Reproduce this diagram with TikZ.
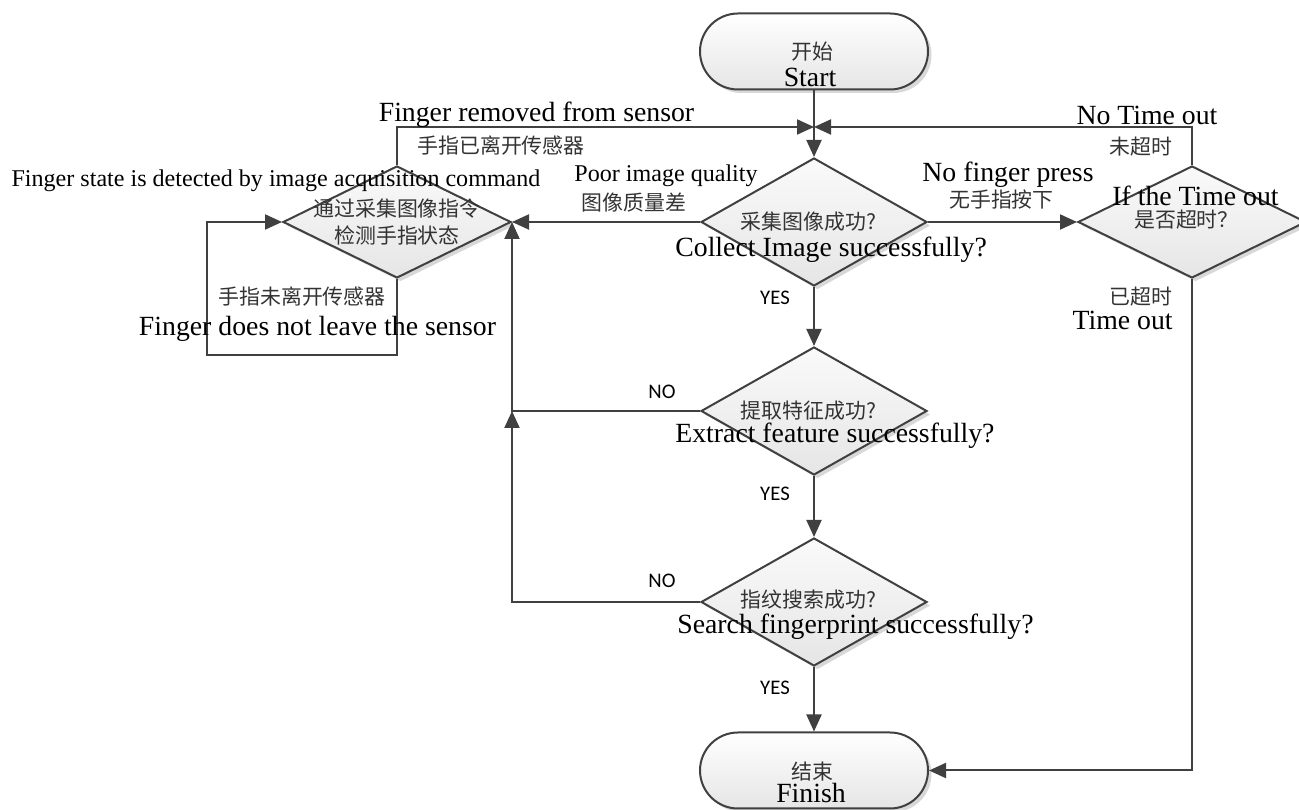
\documentclass[tikz,border=0pt]{standalone}
\usepackage{fontspec}
\setmainfont{Liberation Serif}
\newfontfamily\cjk{Noto Sans CJK SC}
\newfontfamily\yesno{Carlito}
\usetikzlibrary{arrows.meta,shapes.geometric,shadows}
\tikzset{
    line/.style={draw=black!75, line width=0.04cm},
    flow/.style={line, -{Triangle[length=0.34cm,width=0.3cm]}},
    term/.style={line, rectangle, rounded corners=0.76cm, minimum width=4.56cm, minimum height=1.52cm,
        top color=white, bottom color=black!10,
        drop shadow={shadow xshift=0.07cm, shadow yshift=-0.07cm, fill=black!30, opacity=0.5}},
    decision/.style={line, diamond, inner sep=0pt, minimum width=4.52cm, minimum height=2.56cm,
        top color=black!2, bottom color=black!10,
        drop shadow={shadow xshift=0.07cm, shadow yshift=-0.07cm, fill=black!30, opacity=0.5}},
    en/.style={font=\fontsize{15.8}{18}\selectfont, inner sep=0pt},
    ensmall/.style={font=\fontsize{13.7}{16}\selectfont, inner sep=0pt},
    cn/.style={font=\cjk\fontsize{11.9}{15.9}\selectfont, text=black!80, inner sep=0pt},
    yn/.style={font=\yesno\fontsize{11.8}{14}\selectfont, inner sep=0pt}
}
\begin{document}
\begin{tikzpicture}
    \useasboundingbox (0,0) rectangle (25.98,16.2);
    % boxes
    \node[term] (st) at (16.28,15.17) {};
    \node[decision] (d1) at (16.28,11.76) {};
    \node[decision] (d2) at (16.28,7.98) {};
    \node[decision] (d3) at (16.28,4.16) {};
    \node[term] (fin) at (16.28,0.79) {};
    \node[decision, minimum width=4.56cm, minimum height=2.24cm] (ld) at (7.94,11.76) {};
    \node[decision, minimum width=4.56cm, minimum height=2.24cm] (rd) at (23.84,11.76) {};
    \coordinate (jn) at (16.28,13.66);
    \coordinate (lp) at (4.14,9.1);
    \coordinate (jl) at (ld.east |- d2.west);
    % connectors
    \draw[flow] (st) -- (d1);
    \draw[flow] (ld.north) |- (jn);
    \draw[flow] (rd.north) |- (jn);
    \draw[flow] (d1.west) -- (ld.east);
    \draw[flow] (d1.east) -- (rd.west);
    \draw[flow] (d1) -- (d2);
    \draw[flow] (d2) -- (d3);
    \draw[flow] (d3) -- (fin);
    \draw[flow] (d2.west) -| (ld.east);
    \draw[flow] (d3.west) -| (jl);
    \draw[flow] (ld.south) |- (lp) |- (ld.west);
    \draw[flow] (rd.south) |- (fin.east);
    % texts
    \node[cn] (st-cn) at (16.24,15.16) {开始};
    \node[en] (st-en) at (16.2,14.66) {Start};
    \node[cn] (fin-cn) at (16.24,0.76) {结束};
    \node[en] (fin-en) at (16.22,0.34) {Finish};
    \node[cn] (d1-cn) at (16.17,11.76) {采集图像成功?};
    \node[en, anchor=west] (d1-en) at (13.5,11.2) {Collect Image successfully?};
    \node[cn] (d2-cn) at (16.17,7.98) {提取特征成功?};
    \node[en, anchor=west] (d2-en) at (13.5,7.48) {Extract feature successfully?};
    \node[cn] (d3-cn) at (16.17,4.2) {指纹搜索成功?};
    \node[en, anchor=west] (d3-en) at (13.54,3.66) {Search fingerprint successfully?};
    \node[cn, align=center] (ld-cn) at (7.94,11.76) {通过采集图像指令\\检测手指状态};
    \node[ensmall] (ld-en) at (5.52,12.58) {Finger state is detected by image acquisition command};
    \node[en] (rd-en) at (23.91,12.28) {If the Time out};
    \node[cn] (rd-cn) at (23.73,11.8) {是否超时？};
    \node[en] (out-en) at (10.73,13.9) {Finger removed from sensor};
    \node[cn] (out-cn) at (10.02,13.28) {手指已离开传感器};
    \node[cn] (in-cn) at (6.04,10.26) {手指未离开传感器};
    \node[en] (in-en) at (6.35,9.62) {Finger does not leave the sensor};
    \node[ensmall] (poor-en) at (13.32,12.68) {Poor image quality};
    \node[cn] (poor-cn) at (12.68,12.14) {图像质量差};
    \node[en] (nf-en) at (20.16,12.7) {No finger press};
    \node[cn] (nf-cn) at (20.03,12.2) {无手指按下};
    \node[en] (nt-en) at (22.94,13.9) {No Time out};
    \node[cn, anchor=east] (nt-cn) at (23.46,13.26) {未超时};
    \node[cn, anchor=east] (to-cn) at (23.46,10.26) {已超时};
    \node[en, anchor=east] (to-en) at (23.46,9.8) {Time out};
    \node[yn] (yes1) at (15.5,10.24) {YES};
    \node[yn] (yes2) at (15.5,6.32) {YES};
    \node[yn] (yes3) at (15.5,2.44) {YES};
    \node[yn] (no2) at (13.24,8.36) {NO};
    \node[yn] (no3) at (13.24,4.58) {NO};
\end{tikzpicture}
\end{document}
